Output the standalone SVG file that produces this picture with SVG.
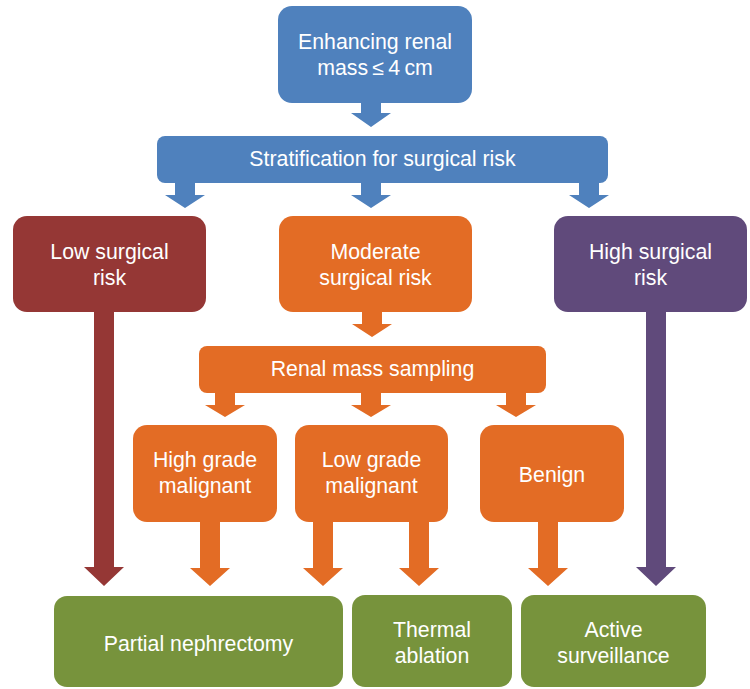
<svg xmlns="http://www.w3.org/2000/svg" width="750" height="689" viewBox="0 0 750 689">
  <style>
    .lbl { font-family: "Liberation Sans", Arial, Helvetica, sans-serif; font-size: 21.3px; fill: #ffffff; text-anchor: middle; }
    .blue { fill: #4F81BD; }
    .red { fill: #953735; }
    .orange { fill: #E36C25; }
    .purple { fill: #604A7B; }
    .green { fill: #77933C; }
  </style>
  <rect width="750" height="689" fill="#ffffff"/>

  <!-- Connectors: block arrows -->
  <g id="connectors">
    <!-- top box to stratification bar -->
    <polygon class="blue" points="361,103 381,103 381,113 391,113 371,127 351,113 361,113"/>
    <!-- stratification bar to risk groups -->
    <polygon class="blue" points="175,183 195,183 195,195 205,195 185,208 165,195 175,195"/>
    <polygon class="blue" points="361,183 381,183 381,195 391,195 371,208 351,195 361,195"/>
    <polygon class="blue" points="579,183 599,183 599,195 609,195 589,208 569,195 579,195"/>
    <!-- low surgical risk to partial nephrectomy -->
    <polygon class="red" points="94,312 114,312 114,567 124,567 104,586 84,567 94,567"/>
    <!-- high surgical risk to active surveillance -->
    <polygon class="purple" points="646,312 666,312 666,567 676,567 656,586 636,567 646,567"/>
    <!-- moderate risk to sampling -->
    <polygon class="orange" points="362,312 382,312 382,324 392,324 372,337 352,324 362,324"/>
    <!-- sampling to results -->
    <polygon class="orange" points="215,393 235,393 235,405 245,405 225,417 205,405 215,405"/>
    <polygon class="orange" points="361,393 381,393 381,405 391,405 371,417 351,405 361,405"/>
    <polygon class="orange" points="506,393 526,393 526,405 536,405 516,417 496,405 506,405"/>
    <!-- results to treatments -->
    <polygon class="orange" points="200,522 220,522 220,568 230,568 210,586 190,568 200,568"/>
    <polygon class="orange" points="313,522 333,522 333,568 343,568 323,586 303,568 313,568"/>
    <polygon class="orange" points="409,522 429,522 429,568 439,568 419,586 399,568 409,568"/>
    <polygon class="orange" points="538,522 558,522 558,568 568,568 548,586 528,568 538,568"/>
  </g>

  <g id="enhancing-mass">
    <rect class="blue" x="278" y="6" width="194" height="97" rx="14"/>
    <text class="lbl" x="375" y="49">Enhancing renal</text>
    <text class="lbl" x="375" y="75">mass&#8201;≤&#8201;4&#8201;cm</text>
  </g>

  <g id="stratification">
    <rect class="blue" x="157" y="136" width="451" height="47" rx="8"/>
    <text class="lbl" x="382.5" y="166">Stratification for surgical risk</text>
  </g>

  <g id="low-risk">
    <rect class="red" x="13" y="216" width="193" height="96" rx="14"/>
    <text class="lbl" x="109.5" y="259">Low surgical</text>
    <text class="lbl" x="109.5" y="285">risk</text>
  </g>

  <g id="moderate-risk">
    <rect class="orange" x="279" y="216" width="193" height="96" rx="14"/>
    <text class="lbl" x="375.5" y="259">Moderate</text>
    <text class="lbl" x="375.5" y="285">surgical risk</text>
  </g>

  <g id="high-risk">
    <rect class="purple" x="554" y="216" width="193" height="96" rx="14"/>
    <text class="lbl" x="650.5" y="259">High surgical</text>
    <text class="lbl" x="650.5" y="285">risk</text>
  </g>

  <g id="sampling">
    <rect class="orange" x="199" y="346" width="347" height="47" rx="8"/>
    <text class="lbl" x="372.5" y="376">Renal mass sampling</text>
  </g>

  <g id="high-grade">
    <rect class="orange" x="133" y="425" width="144" height="97" rx="14"/>
    <text class="lbl" x="205" y="467">High grade</text>
    <text class="lbl" x="205" y="493">malignant</text>
  </g>

  <g id="low-grade">
    <rect class="orange" x="295" y="425" width="153" height="97" rx="14"/>
    <text class="lbl" x="371.5" y="467">Low grade</text>
    <text class="lbl" x="371.5" y="493">malignant</text>
  </g>

  <g id="benign">
    <rect class="orange" x="480" y="425" width="144" height="97" rx="14"/>
    <text class="lbl" x="552" y="482">Benign</text>
  </g>

  <g id="partial-nephrectomy">
    <rect class="green" x="54" y="596" width="289" height="91" rx="13"/>
    <text class="lbl" x="198.5" y="651">Partial nephrectomy</text>
  </g>

  <g id="thermal-ablation">
    <rect class="green" x="352" y="595" width="160" height="92" rx="13"/>
    <text class="lbl" x="432" y="637">Thermal</text>
    <text class="lbl" x="432" y="663">ablation</text>
  </g>

  <g id="active-surveillance">
    <rect class="green" x="521" y="595" width="185" height="92" rx="13"/>
    <text class="lbl" x="613.5" y="637">Active</text>
    <text class="lbl" x="613.5" y="663">surveillance</text>
  </g>
</svg>
